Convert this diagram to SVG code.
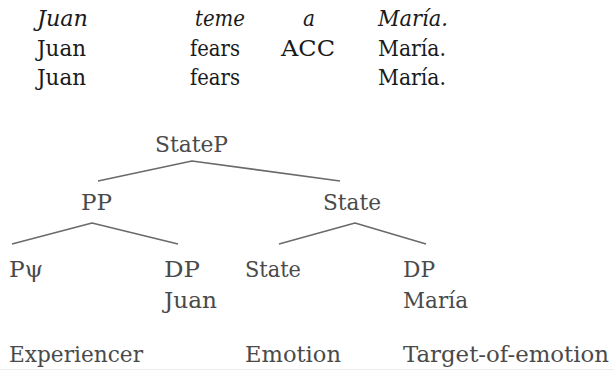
<svg xmlns="http://www.w3.org/2000/svg" width="614" height="371" viewBox="0 0 614 371">
<style>
.e{stroke:#6a6a6a;stroke-width:1.6;fill:none;stroke-linejoin:round}
</style>
<rect width="614" height="371" fill="#fff"/>
<g id="gloss" font-family="'DejaVu Serif', serif" font-size="23" fill="#1a1a1a">
<g font-style="italic">
<text x="37" y="26" textLength="51" lengthAdjust="spacingAndGlyphs">Juan</text>
<text x="195" y="26" textLength="50" lengthAdjust="spacingAndGlyphs">teme</text>
<text x="303" y="26" textLength="12" lengthAdjust="spacingAndGlyphs">a</text>
<text x="378" y="26" textLength="70" lengthAdjust="spacingAndGlyphs">María.</text>
</g>
<text x="37" y="56" textLength="49" lengthAdjust="spacingAndGlyphs">Juan</text>
<text x="190" y="56" textLength="50" lengthAdjust="spacingAndGlyphs">fears</text>
<text x="281" y="56" textLength="54" lengthAdjust="spacingAndGlyphs">ACC</text>
<text x="378" y="56" textLength="68" lengthAdjust="spacingAndGlyphs">María.</text>
<text x="37" y="85" textLength="49" lengthAdjust="spacingAndGlyphs">Juan</text>
<text x="190" y="85" textLength="50" lengthAdjust="spacingAndGlyphs">fears</text>
<text x="378" y="85" textLength="68" lengthAdjust="spacingAndGlyphs">María.</text>
</g>
<g id="connectors">
<polyline class="e" points="98,181 192,161 340,181"/>
<polyline class="e" points="12,244 92,223 178,244"/>
<polyline class="e" points="279,244 355,223 426,244"/>
</g>
<g font-family="'DejaVu Serif', serif" font-size="23" fill="#4a4a4a">
<g id="n-statep"><text x="155" y="152" textLength="73" lengthAdjust="spacingAndGlyphs">StateP</text></g>
<g id="n-pp"><text x="81" y="210" textLength="31" lengthAdjust="spacingAndGlyphs">PP</text></g>
<g id="n-state1"><text x="323" y="210" textLength="58" lengthAdjust="spacingAndGlyphs">State</text></g>
<g id="n-ppsi"><text x="9" y="277" textLength="34" lengthAdjust="spacingAndGlyphs">Pψ</text></g>
<g id="n-dp1"><text x="164" y="277" textLength="36" lengthAdjust="spacingAndGlyphs">DP</text><text x="164" y="308" textLength="53" lengthAdjust="spacingAndGlyphs">Juan</text></g>
<g id="n-state2"><text x="245" y="277" textLength="56" lengthAdjust="spacingAndGlyphs">State</text></g>
<g id="n-dp2"><text x="403" y="277" textLength="32" lengthAdjust="spacingAndGlyphs">DP</text><text x="403" y="308" textLength="65" lengthAdjust="spacingAndGlyphs">María</text></g>
<g id="roles">
<text x="9" y="362" textLength="134" lengthAdjust="spacingAndGlyphs">Experiencer</text>
<text x="245" y="362" textLength="96" lengthAdjust="spacingAndGlyphs">Emotion</text>
<text x="403" y="362" textLength="206" lengthAdjust="spacingAndGlyphs">Target-of-emotion</text>
</g>
</g>
<line x1="0" y1="369.5" x2="614" y2="369.5" stroke="#ececec" stroke-width="1"/>
</svg>
